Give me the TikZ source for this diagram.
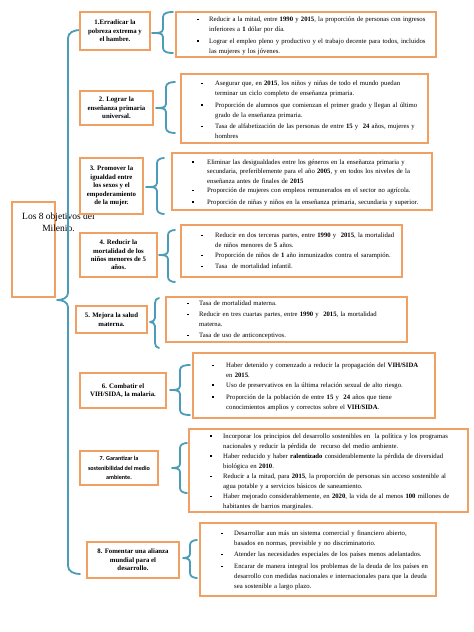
\documentclass[tikz,border=0pt]{standalone}
\usepackage{fontspec}
\setmainfont{Liberation Serif}
\newfontfamily\calib{Carlito}
\definecolor{obor}{HTML}{F0A062}
\definecolor{bteal}{HTML}{4A9CB8}
\tikzset{
 obox/.style={draw=obor, line width=1.3pt, fill=white, inner sep=0pt},
 goal/.style={obox, align=center, font=\fontsize{6.8}{8.4}\selectfont\bfseries},
 txt/.style={inner sep=0pt, anchor=base west, text width=260pt, align=left, font=\fontsize{6.7}{10}\selectfont},
 bul/.style={fill=black, inner sep=0pt, minimum size=1.9pt},
 bracestyle/.style={draw=bteal, line width=1.8pt, line join=round, line cap=round}
}
% #1 tip x, #2 tip y, #3 stem x, #4 end x, #5 top y, #6 bottom y
\newcommand\mybrace[6]{%
 \draw[bracestyle] (#4,#5) to[out=180,in=90] (#3,#5+5) -- (#3,#2-4) to[out=-90,in=0] (#1,#2)
   to[out=0,in=90] (#3,#2+4) -- (#3,#6-5) to[out=-90,in=180] (#4,#6);}
% #1 name, #2 bullet x, #3 text x, #4 baseline y, #5 text
\newcommand\bitem[5]{%
 \node[bul] (#1b) at (#2,#4-2) {};
 \node[txt] (#1) at (#3,#4) {#5};}
\begin{document}
\begin{tikzpicture}[x=1pt,y=-1pt]
\useasboundingbox (0,0) rectangle (474,632);
\fill[white] (0,0) rectangle (474,632);

% main box
\node[obox, minimum width=43pt, minimum height=95pt] (main) at (33.5,249.5) {};
\node[inner sep=0pt, align=center, font=\fontsize{9.5}{12.3}\selectfont] (title) at (58.5,222.5) {Los 8 objetivos del\\Milenio.};

% big brace
\draw[bracestyle] (80,30) to[out=180,in=90] (68,38) -- (68,293) to[out=-90,in=0] (57,300)
   to[out=0,in=90] (68,307) -- (68,566) to[out=-90,in=180] (80,574);

% goals
\node[goal, minimum width=70pt, minimum height=38pt] (g1) at (115,31) {1.Erradicar la\\pobreza extrema y\\el hambre.};
\node[goal, minimum width=73pt, minimum height=34pt] (g2) at (116.5,108) {2. Lograr la\\enseñanza primaria\\universal.};
\node[goal, minimum width=63pt, minimum height=56pt] (g3) at (111.5,186) {3. Promover la\\igualdad entre\\los sexos y el\\empoderamiento\\de la mujer.};
\node[goal, minimum width=77pt, minimum height=44pt] (g4) at (118.5,255) {4. Reducir la\\mortalidad de los\\niños menores de 5\\años.};
\node[goal, minimum width=71pt, minimum height=27pt] (g5) at (111.5,319.5) {5. Mejora la salud\\materna.};
\node[goal, minimum width=86pt, minimum height=35pt] (g6) at (123,390.5) {6. Combatir el\\VIH/SIDA, la malaria.};
\node[goal, minimum width=78pt, minimum height=34pt, font=\calib\fontsize{6.1}{9.2}\selectfont\bfseries] (g7) at (119,468) {7. Garantizar la\\sostenibilidad del medio\\ambiente.};
\node[goal, minimum width=92pt, minimum height=36pt] (g8) at (133,560) {8. Fomentar una alianza\\mundial para el\\desarrollo.};

% braces
\mybrace{152}{33}{163}{173}{12}{53}
\mybrace{156}{108}{166}{175}{82}{133}
\mybrace{146}{187}{157}{164}{158}{214}
\mybrace{159}{255}{168}{175}{230}{282}
\mybrace{150}{322}{155}{159}{298}{348}
\mybrace{170}{390}{180}{190}{365}{415}
\mybrace{172}{468}{180}{187}{443}{493}
\mybrace{183}{558}{190}{197}{540}{578}

% detail boxes
\node[obox, minimum width=260pt, minimum height=45pt] (d1) at (306,34.5) {};
\node[obox, minimum width=247pt, minimum height=69pt] (d2) at (304.5,108.5) {};
\node[obox, minimum width=260pt, minimum height=57pt] (d3) at (302,181.5) {};
\node[obox, minimum width=221pt, minimum height=52pt] (d4) at (291.5,251) {};
\node[obox, minimum width=241pt, minimum height=45pt] (d5) at (286.5,319.5) {};
\node[obox, minimum width=242pt, minimum height=65pt] (d6) at (314,385.5) {};
\node[obox, minimum width=279pt, minimum height=83pt] (d7) at (328.5,470.5) {};
\node[obox, minimum width=236pt, minimum height=73pt] (d8) at (318,559.5) {};

% box 1
\bitem{a1}{198}{209}{21.5}{Reducir a la mitad, entre \textbf{1990} y \textbf{2015}, la proporción de personas con ingresos\\inferiores a \textbf{1} dólar por día.}
\bitem{a2}{198}{209}{43}{Lograr el empleo pleno y productivo y el trabajo decente para todos, incluidos\\las mujeres y los jóvenes.}
% box 2
\bitem{b1}{202}{215}{85.5}{Asegurar que, en \textbf{2015}, los niños y niñas de todo el mundo puedan\\terminar un ciclo completo de enseñanza primaria.}
\bitem{b2}{202}{215}{107}{Proporción de alumnos que comienzan el primer grado y llegan al último\\grado de la enseñanza primaria.}
\bitem{b3}{202}{215}{128.5}{Tasa de alfabetización de las personas de entre \textbf{15} y \ \textbf{24} años, mujeres y\\hombres}
% box 3
\bitem{c1}{193}{207}{164}{\baselineskip=9.3pt Eliminar las desigualdades entre los géneros en la enseñanza primaria y\\secundaria, preferiblemente para el año \textbf{2005}, y en todos los niveles de la\\enseñanza antes de finales de \textbf{2015}}
\bitem{c2}{193}{207}{192.5}{Proporción de mujeres con empleos remunerados en el sector no agrícola.}
\bitem{c3}{193}{207}{204}{Proporción de niñas y niños en la enseñanza primaria, secundaria y superior.}
% box 4
\bitem{e1}{202}{215}{237.5}{Reducir en dos terceras partes, entre \textbf{1990} y \ \textbf{2015}, la mortalidad\\de niños menores de \textbf{5} años.}
\bitem{e2}{202}{215}{257.5}{Proporción de niños de \textbf{1} año inmunizados contra el sarampión.}
\bitem{e3}{202}{215}{268.5}{Tasa \ de mortalidad infantil.}
% box 5
\bitem{f1}{188}{199}{305.5}{Tasa de mortalidad materna.}
\bitem{f2}{188}{199}{316.5}{Reducir en tres cuartas partes, entre \textbf{1990} y \ \textbf{2015}, la mortalidad\\materna.}
\bitem{f3}{188}{199}{337.5}{Tasa de uso de anticonceptivos.}
% box 6
\bitem{h1}{213}{226}{367.5}{\baselineskip=9.5pt Haber detenido y comenzado a reducir la propagación del \textbf{VIH/SIDA}\\en \textbf{2015}.}
\bitem{h2}{213}{226}{387}{Uso de preservativos en la última relación sexual de alto riesgo.}
\bitem{h3}{213}{226}{399}{Proporción de la población de entre \textbf{15} y \ \textbf{24} años que tiene\\conocimientos amplios y correctos sobre el \textbf{VIH/SIDA}.}
% box 7
\bitem{k1}{211}{223}{438}{\baselineskip=9.8pt Incorporar los principios del desarrollo sostenibles en \ la política y los programas\\nacionales y reducir la pérdida de \ recurso del medio ambiente.}
\bitem{k2}{211}{223}{458}{\baselineskip=9.5pt Haber reducido y haber \textbf{ralentizado} considerablemente la pérdida de diversidad\\biológica en \textbf{2010}.}
\bitem{k3}{211}{223}{478.5}{\baselineskip=9.5pt Reducir a la mitad, para \textbf{2015}, la proporción de personas sin acceso sostenible al\\agua potable y a servicios básicos de saneamiento.}
\bitem{k4}{211}{223}{498.5}{\baselineskip=9.5pt Haber mejorado considerablemente, en \textbf{2020}, la vida de al menos \textbf{100} millones de\\habitantes de barrios marginales.}
% box 8
\bitem{m1}{222}{234}{535.5}{Desarrollar aun más un sistema comercial y financiero abierto,\\basados en normas, previsible y no discriminatorio.}
\bitem{m2}{222}{234}{556.5}{Atender las necesidades especiales de los países menos adelantados.}
\bitem{m3}{222}{234}{568.5}{\baselineskip=9.8pt Encarar de manera integral los problemas de la deuda de los países en\\desarrollo con medidas nacionales e internacionales para que la deuda\\sea sostenible a largo plazo.}
\end{tikzpicture}
\end{document}
